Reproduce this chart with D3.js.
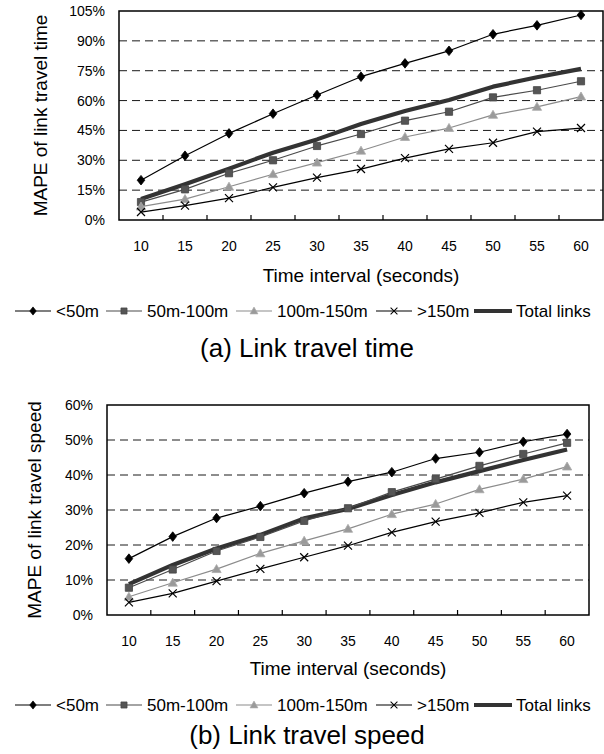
<!DOCTYPE html>
<html>
<head>
<meta charset="utf-8">
<script src="https://cdn.jsdelivr.net/npm/d3@7"></script>
<style>
  html, body { margin: 0; padding: 0; background: #fff; }
  svg { display: block; }
  text { font-family: "Liberation Sans", Arial, sans-serif; fill: #000; }
</style>
</head>
<body>
<svg id="chart" width="604" height="754"></svg>
<script>
// ---------- data ----------
const categories = [10, 15, 20, 25, 30, 35, 40, 45, 50, 55, 60];
const seriesNames = ["<50m", "50m-100m", "100m-150m", ">150m", "Total links"];

// (a) Link travel time (MAPE, %)
const timeLt50    = [20, 32.3, 43.5, 53.4, 62.8, 72, 78.7, 85, 93.3, 97.8, 103];
const time50to100 = [9, 15.4, 23.5, 30, 37.2, 43.2, 49.9, 54.4, 61.6, 65.2, 69.7];
const time100to150 = [6.7, 10.5, 16.7, 23, 28.8, 34.8, 41.7, 46.2, 52.8, 56.8, 62];
const timeGt150   = [4, 7.2, 11, 16.4, 21.3, 25.6, 31.1, 35.7, 38.8, 44.4, 46.2];
const timeTotal   = [10.5, 18, 25.8, 33.8, 40.5, 48.2, 54.8, 60.3, 67, 71.7, 75.9];
const timeTicks   = [0, 15, 30, 45, 60, 75, 90, 105];

// (b) Link travel speed (MAPE, %)
const speedLt50    = [16.1, 22.4, 27.7, 31.1, 34.8, 38.1, 40.8, 44.7, 46.5, 49.5, 51.7];
const speed50to100 = [7.8, 13, 18.3, 22.3, 26.9, 30.5, 35.1, 38.8, 42.6, 46, 49.2];
const speed100to150 = [5.2, 9.2, 13.1, 17.6, 21.2, 24.6, 28.8, 31.7, 35.9, 38.8, 42.4];
const speedGt150   = [3.6, 6.2, 9.7, 13.2, 16.5, 19.8, 23.6, 26.7, 29.2, 32.2, 34.1];
const speedTotal   = [8.8, 14.3, 19, 22.9, 27.6, 30.3, 34.3, 37.9, 41.1, 44.3, 47.3];
const speedTicks   = [0, 10, 20, 30, 40, 50, 60];

// ---------- styles ----------
const seriesStyle = [
  { stroke: "#000", width: 1.2, marker: "diamond", fill: "#000", mstroke: "#000", legendX: 15 },
  { stroke: "#4a4a4a", width: 1.2, marker: "square", fill: "#555", mstroke: "#444", legendX: 106 },
  { stroke: "#8c8c8c", width: 1.2, marker: "triangle", fill: "#9a9a9a", mstroke: "#aaa", legendX: 236 },
  { stroke: "#000", width: 1.2, marker: "x", fill: "none", mstroke: "#000", legendX: 376 },
  { stroke: "#333", width: 4.2, marker: null, legendX: 474 }
];

const symbolDefs = {
  diamond: { draw(ctx) { ctx.moveTo(0, -4.8); ctx.lineTo(3.8, 0); ctx.lineTo(0, 4.8); ctx.lineTo(-3.8, 0); ctx.closePath(); } },
  square: { draw(ctx) { ctx.rect(-3.6, -3.6, 7.2, 7.2); } },
  triangle: { draw(ctx) { ctx.moveTo(0, -4.6); ctx.lineTo(4.6, 3.4); ctx.lineTo(-4.6, 3.4); ctx.closePath(); } },
  x: { draw(ctx) { ctx.moveTo(-4, -4); ctx.lineTo(4, 4); ctx.moveTo(-4, 4); ctx.lineTo(4, -4); } }
};

const svg = d3.select("#chart");

function drawChart(cfg) {
  const g = svg.append("g");
  const x = d3.scaleBand().domain(categories).range([cfg.left, cfg.right]);
  const y = d3.scaleLinear().domain([0, cfg.yMax]).range([cfg.bottom, cfg.top]);

  // dashed gridlines
  g.selectAll("line.grid").data(cfg.ticks.filter(t => t > 0 && t < cfg.yMax)).enter()
    .append("line")
    .attr("x1", cfg.left).attr("x2", cfg.right)
    .attr("y1", d => y(d)).attr("y2", d => y(d))
    .attr("stroke", "#1a1a1a").attr("stroke-width", 1).attr("stroke-dasharray", "8,5");

  // frame
  g.append("rect")
    .attr("x", cfg.left).attr("y", cfg.top)
    .attr("width", cfg.right - cfg.left).attr("height", cfg.bottom - cfg.top)
    .attr("fill", "none").attr("stroke", "#000").attr("stroke-width", 1.5);

  // y axis labels
  const yAxis = d3.axisLeft(y).tickValues(cfg.ticks).tickSize(0).tickPadding(14).tickFormat(d => d + "%");
  const ya = g.append("g").attr("transform", `translate(${cfg.left},0)`).call(yAxis);
  ya.select(".domain").remove();
  ya.selectAll("text").style("font-size", "14px").style("font-family", '"Liberation Sans", Arial, sans-serif').attr("fill", "#000");

  // x axis: labels + inner ticks at band boundaries
  const xAxis = d3.axisBottom(x).tickSize(0).tickPadding(21);
  const xa = g.append("g").attr("transform", `translate(0,${cfg.bottom})`).call(xAxis);
  xa.select(".domain").remove();
  xa.selectAll("text").style("font-size", "14px").style("font-family", '"Liberation Sans", Arial, sans-serif').attr("fill", "#000");
  g.selectAll("line.xtick").data(categories.slice(1)).enter().append("line")
    .attr("x1", d => x(d)).attr("x2", d => x(d))
    .attr("y1", cfg.bottom).attr("y2", cfg.bottom - 5)
    .attr("stroke", "#000").attr("stroke-width", 1.2);

  // series
  const line = d3.line().x((d, i) => x(categories[i]) + x.bandwidth() / 2).y(d => y(d));
  const order = [4, 0, 1, 2, 3];
  order.forEach(si => {
    const st = seriesStyle[si];
    const vals = cfg.series[si];
    g.append("path").datum(vals).attr("d", line)
      .attr("fill", "none").attr("stroke", st.stroke).attr("stroke-width", st.width)
      .attr("stroke-linejoin", "round");
    if (st.marker) {
      g.selectAll(null).data(vals).enter().append("path")
        .attr("d", d3.symbol().type(symbolDefs[st.marker]))
        .attr("transform", (d, i) => `translate(${x(categories[i]) + x.bandwidth() / 2},${y(d)})`)
        .attr("fill", st.fill).attr("stroke", st.mstroke).attr("stroke-width", st.marker === "x" ? 1.2 : 0.8);
    }
  });

  // y title
  g.append("text")
    .attr("transform", `translate(${cfg.yTitleX},${(cfg.top + cfg.bottom) / 2}) rotate(-90)`)
    .attr("text-anchor", "middle").attr("dominant-baseline", "central")
    .style("font-size", "19px").text(cfg.yTitle);

  // x title
  g.append("text")
    .attr("x", (cfg.left + cfg.right) / 2).attr("y", cfg.xTitleY)
    .attr("text-anchor", "middle").attr("dominant-baseline", "central")
    .style("font-size", "19px").text("Time interval (seconds)");

  // legend
  const ly = cfg.legendY;
  seriesNames.forEach((name, si) => {
    const st = seriesStyle[si];
    const lx = st.legendX;
    const len = si === 4 ? 38 : 36;
    g.append("line").attr("x1", lx).attr("x2", lx + len).attr("y1", ly).attr("y2", ly)
      .attr("stroke", st.stroke).attr("stroke-width", si === 4 ? 4.2 : 1.2);
    if (st.marker) {
      g.append("path").attr("d", d3.symbol().type(symbolDefs[st.marker]))
        .attr("transform", `translate(${lx + len / 2},${ly}) scale(0.85)`)
        .attr("fill", st.fill).attr("stroke", st.mstroke).attr("stroke-width", st.marker === "x" ? 1.2 : 0.8);
    }
    g.append("text").attr("x", lx + len + (si === 4 ? 4 : 5)).attr("y", ly)
      .attr("dominant-baseline", "central").style("font-size", "17px").text(name);
  });

  // caption
  g.append("text")
    .attr("x", 307).attr("y", cfg.captionY)
    .attr("text-anchor", "middle").attr("dominant-baseline", "central")
    .style("font-size", "26px").text(cfg.caption);
}

drawChart({
  left: 119, right: 603, top: 11, bottom: 220, yMax: 105, ticks: timeTicks,
  series: [timeLt50, time50to100, time100to150, timeGt150, timeTotal],
  yTitle: "MAPE of link travel time", yTitleX: 40,
  xTitleY: 275, legendY: 311, captionY: 348, caption: "(a) Link travel time"
});

drawChart({
  left: 107, right: 589, top: 405, bottom: 615, yMax: 60, ticks: speedTicks,
  series: [speedLt50, speed50to100, speed100to150, speedGt150, speedTotal],
  yTitle: "MAPE of link travel speed", yTitleX: 34,
  xTitleY: 668, legendY: 705, captionY: 735, caption: "(b) Link travel speed"
});
</script>
</body>
</html>
